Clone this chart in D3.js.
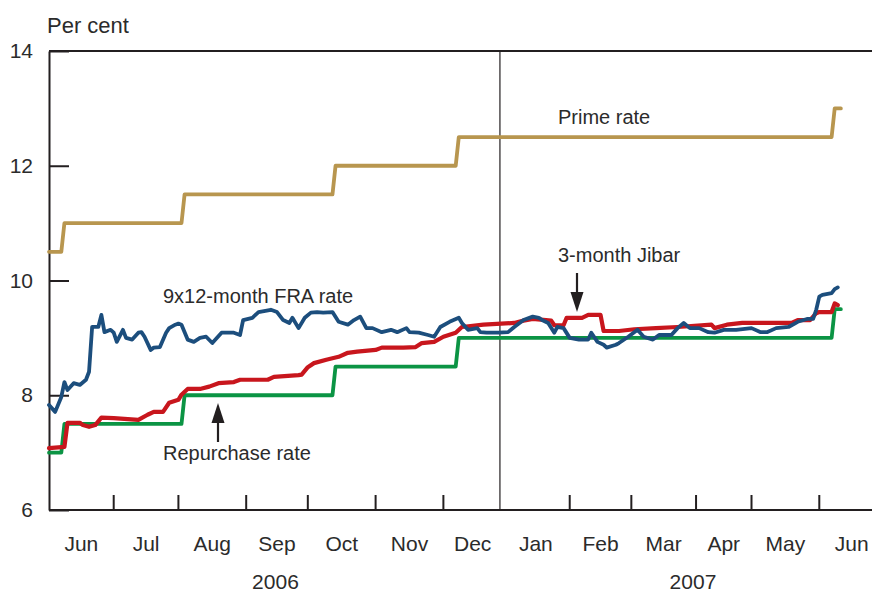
<!DOCTYPE html>
<html>
<head>
<meta charset="utf-8">
<title>Interest rates</title>
<style>
body { margin: 0; background: #fff; }
text { font-family: "Liberation Sans", Arial, Helvetica, sans-serif; fill: #2b2b2b; }
.frame { stroke: #231f20; stroke-width: 2px; }
.series { fill: none; stroke-linejoin: round; stroke-linecap: round; }
</style>
</head>
<body>
<script src="https://cdn.jsdelivr.net/npm/d3@7"></script>
<script>

// Data (per cent)
var repoChanges = [["2006-06-01", 7.0], ["2006-06-08", 7.5], ["2006-08-03", 8.0],
                   ["2006-10-13", 8.5], ["2006-12-08", 9.0], ["2007-06-08", 9.5]];
var primeChanges = [["2006-06-01", 10.5], ["2006-06-08", 11.0], ["2006-08-03", 11.5],
                    ["2006-10-13", 12.0], ["2006-12-08", 12.5], ["2007-06-08", 13.0]];
var stepEnd = "2007-06-12";

var jibarRate = [
  ["2006-06-01",7.08],["2006-06-08",7.10],["2006-06-09",7.52],["2006-06-15",7.52],["2006-06-19",7.48],
  ["2006-06-21",7.45],["2006-06-23",7.48],["2006-06-27",7.61],["2006-07-03",7.60],["2006-07-13",7.57],
  ["2006-07-18",7.66],["2006-07-20",7.71],["2006-07-25",7.71],["2006-07-27",7.87],["2006-08-01",7.92],
  ["2006-08-02",8.01],["2006-08-04",8.11],["2006-08-11",8.11],["2006-08-16",8.15],["2006-08-21",8.21],
  ["2006-08-28",8.23],["2006-08-30",8.27],["2006-09-12",8.27],["2006-09-14",8.32],["2006-09-27",8.35],
  ["2006-09-28",8.36],["2006-10-02",8.49],["2006-10-04",8.56],["2006-10-10",8.62],["2006-10-16",8.67],
  ["2006-10-19",8.74],["2006-10-24",8.76],["2006-11-01",8.79],["2006-11-03",8.83],["2006-11-14",8.83],
  ["2006-11-20",8.84],["2006-11-22",8.91],["2006-11-28",8.93],["2006-12-01",9.02],["2006-12-07",9.09],
  ["2006-12-11",9.19],["2006-12-20",9.23],["2007-01-08",9.26],["2007-01-11",9.30],["2007-01-16",9.33],
  ["2007-01-24",9.30],["2007-01-25",9.22],["2007-01-30",9.22],["2007-01-31",9.35],["2007-02-07",9.35],
  ["2007-02-09",9.40],["2007-02-15",9.40],["2007-02-16",9.12],["2007-02-23",9.12],["2007-03-02",9.15],
  ["2007-03-13",9.17],["2007-03-23",9.19],["2007-04-11",9.23],["2007-04-12",9.17],["2007-04-18",9.23],
  ["2007-04-25",9.26],["2007-05-21",9.26],["2007-05-23",9.31],["2007-05-29",9.31],["2007-05-31",9.43],
  ["2007-06-01",9.45],["2007-06-07",9.45],["2007-06-08",9.60],["2007-06-11",9.57]
];

var fraRate = [
  ["2006-06-01",7.83],["2006-06-05",7.71],["2006-06-07",7.97],["2006-06-08",8.23],["2006-06-09",8.09],
  ["2006-06-13",8.21],["2006-06-15",8.18],["2006-06-20",8.27],["2006-06-21",8.41],["2006-06-22",9.19],
  ["2006-06-26",9.19],["2006-06-27",9.40],["2006-06-28",9.10],["2006-06-30",9.14],["2006-07-03",9.09],
  ["2006-07-04",8.93],["2006-07-06",9.14],["2006-07-07",9.00],["2006-07-11",8.97],["2006-07-13",9.09],
  ["2006-07-14",9.10],["2006-07-17",9.02],["2006-07-19",8.79],["2006-07-20",8.83],["2006-07-24",8.84],
  ["2006-07-26",9.09],["2006-07-27",9.17],["2006-07-31",9.23],["2006-08-01",9.25],["2006-08-02",9.23],
  ["2006-08-04",8.97],["2006-08-08",8.93],["2006-08-11",9.00],["2006-08-15",9.02],["2006-08-17",8.91],
  ["2006-08-22",9.09],["2006-08-28",9.09],["2006-08-30",9.05],["2006-08-31",9.31],["2006-09-05",9.35],
  ["2006-09-07",9.45],["2006-09-13",9.49],["2006-09-15",9.45],["2006-09-19",9.31],["2006-09-21",9.26],
  ["2006-09-22",9.35],["2006-09-27",9.17],["2006-09-29",9.35],["2006-10-03",9.44],["2006-10-05",9.45],
  ["2006-10-09",9.44],["2006-10-12",9.45],["2006-10-16",9.28],["2006-10-19",9.23],["2006-10-23",9.31],
  ["2006-10-25",9.37],["2006-10-27",9.17],["2006-10-31",9.17],["2006-11-03",9.10],["2006-11-08",9.14],
  ["2006-11-10",9.10],["2006-11-15",9.17],["2006-11-16",9.10],["2006-11-21",9.09],["2006-11-24",9.05],
  ["2006-11-28",9.02],["2006-11-30",9.19],["2006-12-05",9.28],["2006-12-08",9.35],["2006-12-11",9.26],
  ["2006-12-13",9.14],["2006-12-18",9.17],["2006-12-19",9.10],["2006-12-21",9.09],["2006-12-29",9.09],
  ["2007-01-04",9.10],["2007-01-08",9.19],["2007-01-11",9.31],["2007-01-16",9.37],["2007-01-18",9.35],
  ["2007-01-19",9.31],["2007-01-23",9.26],["2007-01-25",9.09],["2007-01-26",9.19],["2007-01-30",9.17],
  ["2007-02-01",9.00],["2007-02-06",8.97],["2007-02-09",8.97],["2007-02-12",9.09],["2007-02-14",8.93],
  ["2007-02-16",8.88],["2007-02-19",8.83],["2007-02-22",8.88],["2007-02-23",8.91],["2007-02-28",9.02],
  ["2007-03-05",9.14],["2007-03-07",9.02],["2007-03-12",8.97],["2007-03-14",9.05],["2007-03-20",9.05],
  ["2007-03-23",9.17],["2007-03-27",9.26],["2007-03-29",9.17],["2007-04-03",9.17],["2007-04-10",9.10],
  ["2007-04-12",9.09],["2007-04-17",9.14],["2007-04-23",9.14],["2007-05-02",9.17],["2007-05-07",9.10],
  ["2007-05-09",9.10],["2007-05-14",9.17],["2007-05-18",9.19],["2007-05-23",9.28],["2007-05-28",9.33],
  ["2007-05-30",9.33],["2007-05-31",9.49],["2007-06-01",9.72],["2007-06-04",9.75],["2007-06-07",9.78],
  ["2007-06-08",9.85],["2007-06-11",9.88]
];

var yTicks = [6, 8, 10, 12, 14];
var monthLabels = ["Jun", "Jul", "Aug", "Sep", "Oct", "Nov", "Dec",
                   "Jan", "Feb", "Mar", "Apr", "May", "Jun"];
var yearLabels = ["2006", "2007"];

// South African public holidays (no trading) inside the period
var holidays = ["2006-06-16", "2006-08-09", "2006-09-25", "2006-12-25", "2006-12-26",
                "2007-01-01", "2007-03-21", "2007-04-06", "2007-04-09", "2007-04-27", "2007-05-01"];

var width = 872, height = 595;
var margin = {left: 49, top: 51, bottom: 85};

var parse = d3.timeParse("%Y-%m-%d"), fmt = d3.timeFormat("%Y-%m-%d");

// business-day calendar: the x axis runs on trading days
var days = d3.timeDay.range(parse("2006-06-01"), parse("2007-07-01"))
    .filter(function(d) {
      return d.getDay() !== 0 && d.getDay() !== 6 && holidays.indexOf(fmt(d)) < 0;
    });
var dayIndex = {};
days.forEach(function(d, i) { dayIndex[fmt(d)] = i; });

var x = d3.scaleLinear().domain([0, days.length]).range([margin.left, 884]);
var y = d3.scaleLinear().domain([6, 14]).range([height - margin.bottom, margin.top]);

// first trading day of each month
var monthStarts = [];
days.forEach(function(d, i) {
  if (i === 0 || d.getMonth() !== days[i - 1].getMonth()) monthStarts.push(i);
});
monthStarts.push(days.length);
var yearBreak = monthStarts[7];

var svg = d3.select("body").append("svg")
    .attr("width", width)
    .attr("height", height);

// frame: top and bottom lines, y axis
svg.append("line").attr("class", "frame")
    .attr("x1", x(0)).attr("x2", x.range()[1])
    .attr("y1", y(14)).attr("y2", y(14));
svg.append("line").attr("class", "frame")
    .attr("x1", x(0)).attr("x2", x.range()[1])
    .attr("y1", y(6)).attr("y2", y(6));

var yAxis = svg.append("g")
    .attr("transform", "translate(" + x(0) + ",0)")
    .call(d3.axisLeft(y).tickValues(yTicks).tickSize(-20).tickSizeOuter(0).tickPadding(16));
yAxis.selectAll("path, line").attr("stroke", "#231f20").attr("stroke-width", 2);
yAxis.selectAll("text").attr("font-size", 21).attr("fill", "#2b2b2b")
    .attr("font-family", "Liberation Sans, Arial, sans-serif");

// month ticks (inward) and year divider
svg.append("g").selectAll("line")
    .data(monthStarts.filter(function(m, i) { return i > 0 && m !== yearBreak && m < days.length; }))
    .enter().append("line")
    .attr("class", "frame")
    .attr("x1", d => x(d)).attr("x2", d => x(d))
    .attr("y1", y(6)).attr("y2", y(6) - 15);

svg.append("line")
    .attr("x1", x(yearBreak) - 2).attr("x2", x(yearBreak) - 2)
    .attr("y1", y(14)).attr("y2", y(6))
    .attr("stroke", "#231f20").attr("stroke-width", 1.2);

// month and year labels
svg.append("g").selectAll("text")
    .data(monthLabels)
    .enter().append("text")
    .attr("x", (d, i) => (x(monthStarts[i]) + x(monthStarts[i + 1])) / 2)
    .attr("y", 551)
    .attr("text-anchor", "middle")
    .attr("font-size", 21)
    .text(d => d);

svg.append("g").selectAll("text")
    .data(yearLabels)
    .enter().append("text")
    .attr("x", (d, i) => i === 0 ? (x(0) + x(yearBreak)) / 2 : (x(yearBreak) + x(days.length)) / 2)
    .attr("y", 589)
    .attr("text-anchor", "middle")
    .attr("font-size", 21)
    .text(d => d);

svg.append("text")
    .attr("x", 47).attr("y", 33)
    .attr("font-size", 22)
    .text("Per cent");

// step series: change on the trading day of the decision
function stepPoints(changes) {
  var pts = [[0, changes[0][1]]];
  for (var i = 1; i < changes.length; i++) {
    var k = dayIndex[changes[i][0]];
    pts.push([k - 1, changes[i - 1][1]]);
    pts.push([k, changes[i][1]]);
  }
  pts.push([dayIndex[stepEnd], changes[changes.length - 1][1]]);
  return pts;
}
function dailyPoints(series) {
  return series.map(d => [dayIndex[d[0]], d[1]]);
}

var line = d3.line()
    .x(d => x(d[0]))
    .y(d => y(d[1]));

var series = [
  {pts: stepPoints(primeChanges), color: "#b8964f", w: 3.8},
  {pts: stepPoints(repoChanges), color: "#0b9444", w: 3.8},
  {pts: dailyPoints(jibarRate), color: "#c8161d", w: 4.2},
  {pts: dailyPoints(fraRate), color: "#1c4e7d", w: 3.8}
];

svg.append("g").selectAll("path")
    .data(series)
    .enter().append("path")
    .attr("class", "series")
    .attr("d", d => line(d.pts))
    .attr("stroke", d => d.color)
    .attr("stroke-width", d => d.w);

// annotations
svg.append("text").attr("x", 558).attr("y", 124).attr("font-size", 20).text("Prime rate");
svg.append("text").attr("x", 163).attr("y", 303).attr("font-size", 20).text("9x12-month FRA rate");
svg.append("text").attr("x", 558).attr("y", 262).attr("font-size", 20).text("3-month Jibar");
svg.append("text").attr("x", 163).attr("y", 460).attr("font-size", 20).text("Repurchase rate");

function arrow(ax, yFrom, yTip) {
  var dir = yTip > yFrom ? 1 : -1;
  svg.append("line")
      .attr("x1", ax).attr("x2", ax)
      .attr("y1", yFrom).attr("y2", yTip - dir * 14)
      .attr("stroke", "#231f20").attr("stroke-width", 2.2);
  svg.append("path")
      .attr("d", "M" + (ax - 6.5) + "," + (yTip - dir * 20) + "L" + ax + "," + yTip +
                 "L" + (ax + 6.5) + "," + (yTip - dir * 20) + "Z")
      .attr("fill", "#231f20");
}
arrow(577, 273, 312);
arrow(218, 442, 403);

</script>
</body>
</html>
